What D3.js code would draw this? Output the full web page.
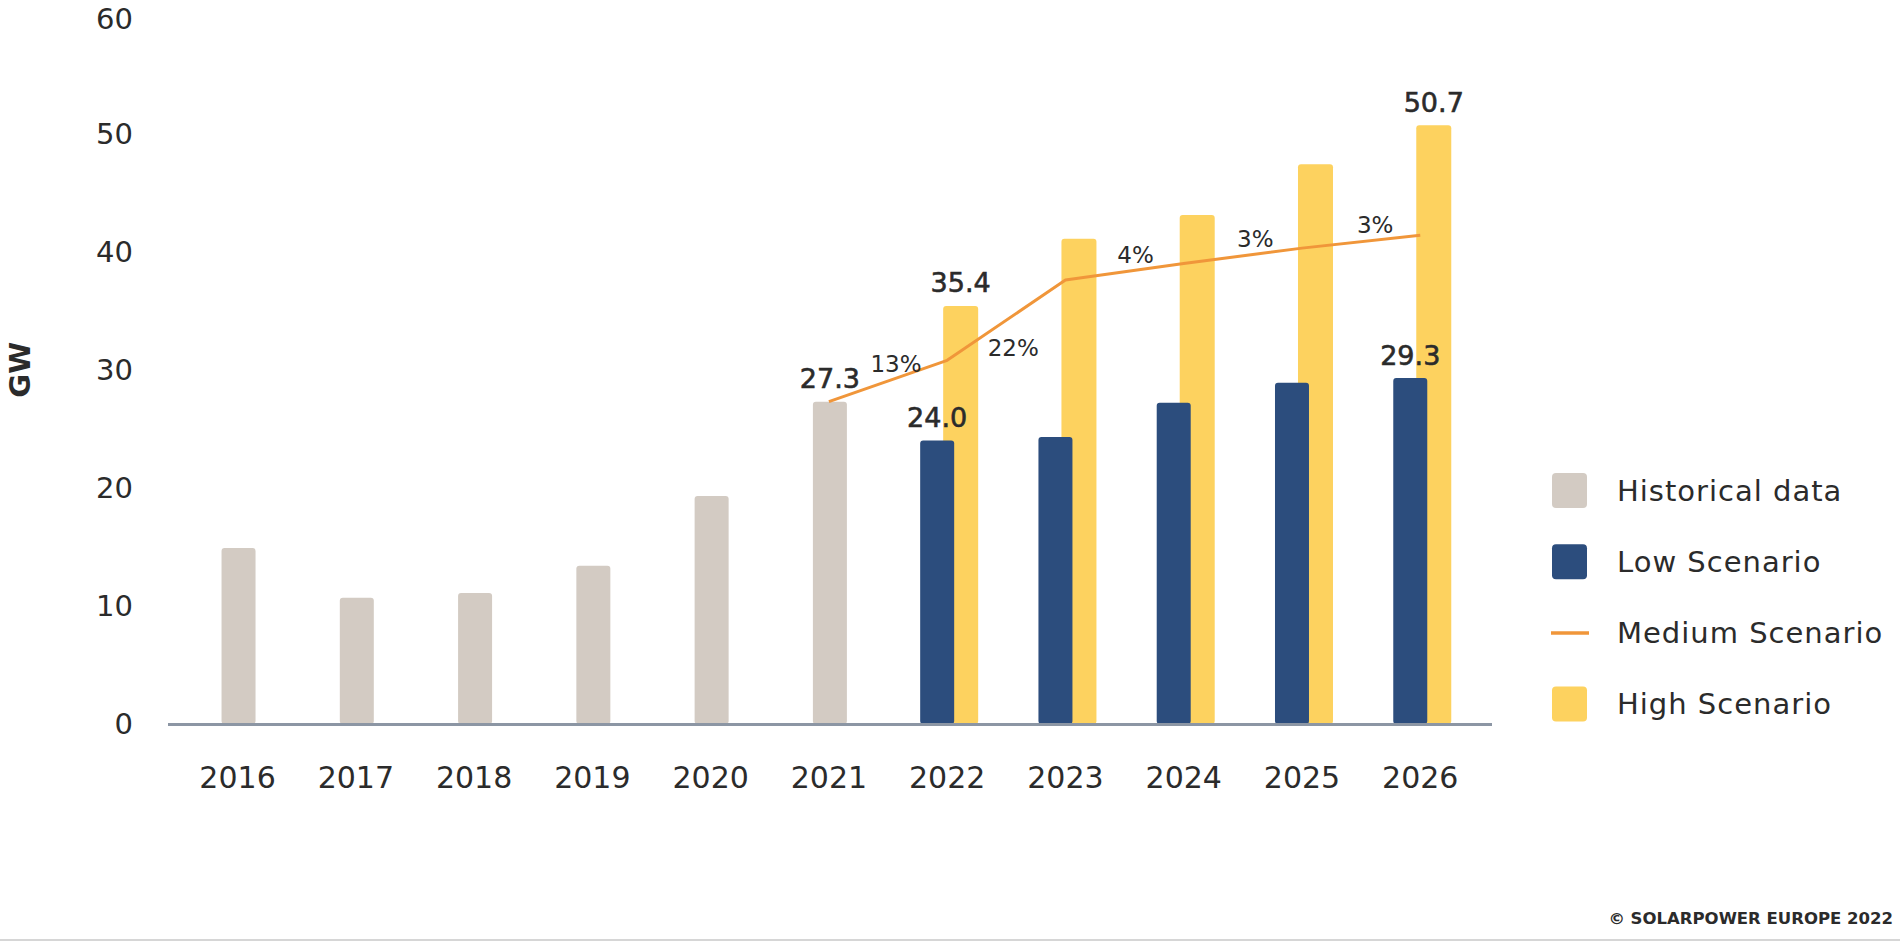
<!DOCTYPE html>
<html>
<head>
<meta charset="utf-8">
<script src="https://cdn.jsdelivr.net/npm/d3@7"></script>
<style>
  html, body { margin: 0; padding: 0; background: #ffffff; }
  svg { display: block; }
  text { font-family: "DejaVu Sans", sans-serif; fill: #2b2b2b; }
</style>
</head>
<body>
<svg id="chart" width="1900" height="943"></svg>
<script>
// ---- data ----
const years = [2016, 2017, 2018, 2019, 2020, 2021, 2022, 2023, 2024, 2025, 2026];
const yTicks = [0, 10, 20, 30, 40, 50, 60];
const historicalYears = [2016, 2017, 2018, 2019, 2020, 2021];
const historicalValues = [14.9, 10.7, 11.1, 13.4, 19.3, 27.3];
const scenarioYears = [2022, 2023, 2024, 2025, 2026];
const lowValues = [24.0, 24.3, 27.2, 28.9, 29.3];
const highValues = [35.4, 41.1, 43.1, 47.4, 50.7];
const mediumYears = [2021, 2022, 2023, 2024, 2025, 2026];
const mediumValues = [27.3, 30.8, 37.6, 39.0, 40.3, 41.4];
const growthLabels = ["13%", "22%", "4%", "3%", "3%"];
const legendLabels = ["Historical data", "Low Scenario", "Medium Scenario", "High Scenario"];
const yLabel = "GW";
const credit = "\u00A9 SOLARPOWER EUROPE 2022";

// ---- styles ----
const colHist = "#d3cbc3", colLow = "#2c4d7d", colHigh = "#fdd25f", colMed = "#f0963a";

const svg = d3.select("#chart");

const x = d3.scaleBand().domain(years).range([178.4, 1479.4]).padding(0);
const cx = d => x(d) + x.bandwidth() / 2;
const y = d3.scaleLinear().domain([0, 60]).range([724, 15.5]);

// y axis labels
const yAxis = svg.append("g").attr("transform", "translate(133,0)")
  .call(d3.axisLeft(y).tickValues(yTicks).tickSize(0).tickPadding(0));
yAxis.select(".domain").remove();
yAxis.selectAll("text")
  .style("font-family", "DejaVu Sans").style("font-size", "29px").attr("fill", "#2b2b2b")
  .attr("dy", d => d === 60 ? "0.45em" : "0.34em");

// y title
svg.append("text")
  .attr("transform", `translate(30,${y(30)})rotate(-90)`)
  .attr("text-anchor", "middle")
  .style("font-size", "29px").style("font-weight", "bold")
  .text(yLabel);

// x axis labels
const xAxis = svg.append("g").attr("transform", `translate(0,${y(0)})`)
  .call(d3.axisBottom(x).tickSize(0).tickPadding(43));
xAxis.select(".domain").remove();
xAxis.selectAll("text").style("font-family", "DejaVu Sans").style("font-size", "30px").attr("fill", "#2b2b2b");

// historical bars
const hist = historicalYears.map((yr, i) => ({ yr, v: historicalValues[i] }));
svg.append("g").selectAll("rect").data(hist).join("rect")
  .attr("x", d => cx(d.yr) - 16)
  .attr("width", 34)
  .attr("y", d => y(d.v))
  .attr("height", d => y(0) - y(d.v))
  .attr("rx", 3)
  .attr("fill", colHist);

// high scenario bars (behind)
const high = scenarioYears.map((yr, i) => ({ yr, v: highValues[i] }));
svg.append("g").selectAll("rect").data(high).join("rect")
  .attr("x", d => cx(d.yr) - 4)
  .attr("width", 35)
  .attr("y", d => y(d.v))
  .attr("height", d => y(0) - y(d.v))
  .attr("rx", 3)
  .attr("fill", colHigh);

// low scenario bars
const low = scenarioYears.map((yr, i) => ({ yr, v: lowValues[i] }));
svg.append("g").selectAll("rect").data(low).join("rect")
  .attr("x", d => cx(d.yr) - 27)
  .attr("width", 34)
  .attr("y", d => y(d.v))
  .attr("height", d => y(0) - y(d.v))
  .attr("rx", 3)
  .attr("fill", colLow);

// baseline
svg.append("line")
  .attr("x1", 168).attr("x2", 1492)
  .attr("y1", y(0) + 0.5).attr("y2", y(0) + 0.5)
  .attr("stroke", "#8c96a4").attr("stroke-width", 3);

// medium line
const med = mediumYears.map((yr, i) => ({ yr, v: mediumValues[i] }));
svg.append("path")
  .datum(med)
  .attr("fill", "none")
  .attr("stroke", colMed)
  .attr("stroke-width", 3)
  .attr("stroke-linejoin", "round")
  .attr("d", d3.line().x(d => cx(d.yr)).y(d => y(d.v)));

// growth labels
svg.append("g").selectAll("text").data(growthLabels).join("text")
  .attr("x", (d, i) => (cx(mediumYears[i]) + cx(mediumYears[i + 1])) / 2 + (i === 1 ? 7 : 8 + i * 1.5))
  .attr("y", (d, i) => {
    const my = (y(mediumValues[i]) + y(mediumValues[i + 1])) / 2;
    return i === 1 ? my + 28 : my - 17;
  })
  .attr("text-anchor", "middle")
  .attr("dominant-baseline", "central")
  .style("font-size", "23px")
  .attr("fill", "#3a3a3a")
  .text(d => d);

// value labels
const valueLabels = [
  { x: cx(2021) + 1, v: historicalValues[5] },
  { x: cx(2022) - 10, v: lowValues[0] },
  { x: cx(2026) - 10, v: lowValues[4] },
  { x: cx(2022) + 13.5, v: highValues[0] },
  { x: cx(2026) + 13.5, v: highValues[4] }
];
svg.append("g").selectAll("text").data(valueLabels).join("text")
  .attr("x", d => d.x)
  .attr("y", d => y(d.v) - 23)
  .attr("text-anchor", "middle")
  .attr("dominant-baseline", "central")
  .style("font-size", "27px")
  .attr("stroke", "#2b2b2b").attr("stroke-width", 0.6)
  .text(d => d.v.toFixed(1));

// legend
const legendColors = [colHist, colLow, colMed, colHigh];
const lg = svg.append("g").selectAll("g").data(legendLabels).join("g")
  .attr("transform", (d, i) => `translate(1552,${490.5 + i * 71.2})`);
lg.each(function (d, i) {
  const g = d3.select(this);
  if (i === 2) {
    g.append("line").attr("x1", -1).attr("x2", 37).attr("y1", 0).attr("y2", 0)
      .attr("stroke", legendColors[i]).attr("stroke-width", 3.5);
  } else {
    g.append("rect").attr("x", 0).attr("y", -17.5).attr("width", 35).attr("height", 35)
      .attr("rx", 4).attr("fill", legendColors[i]);
  }
  g.append("text").attr("x", 65).attr("y", 0)
    .attr("dominant-baseline", "central")
    .style("font-size", "29px").style("letter-spacing", "1px")
    .text(d);
});

// credit
svg.append("text")
  .attr("x", 1893).attr("y", 918)
  .attr("text-anchor", "end")
  .attr("dominant-baseline", "central")
  .style("font-size", "16.5px").style("font-weight", "bold")
  .attr("fill", "#777777")
  .text(credit);

// bottom rule
svg.append("line")
  .attr("x1", 0).attr("x2", 1900).attr("y1", 940).attr("y2", 940)
  .attr("stroke", "#d6d6d6").attr("stroke-width", 2);
</script>
</body>
</html>
